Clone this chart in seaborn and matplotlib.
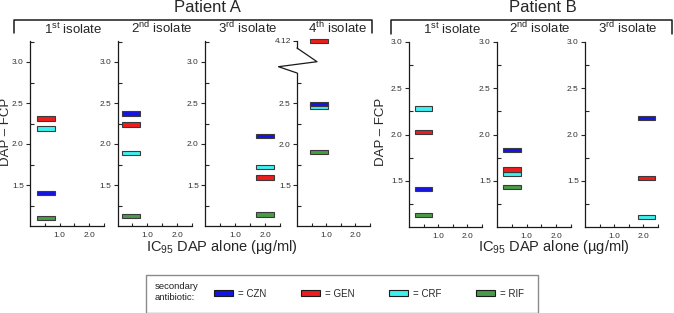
import numpy as np
import matplotlib
matplotlib.use("Agg")
import matplotlib.pyplot as plt
from matplotlib.lines import Line2D
from matplotlib.patches import Patch, Rectangle
import seaborn as sns

# ---- data ----
antibiotics = ['CZN', 'GEN', 'CRF', 'RIF']
ab_colors = ['#1414e6', '#ee1c1c', '#3ff0f0', '#4a9b48']

a_isolates = ['1$^{\\mathrm{st}}$ isolate', '2$^{\\mathrm{nd}}$ isolate',
              '3$^{\\mathrm{rd}}$ isolate', '4$^{\\mathrm{th}}$ isolate']
a_ic95 = [0.55, 0.45, 2.0, 0.75]
a_czn = [1.40, 2.37, 2.10, 2.49]
a_gen = [2.31, 2.24, 1.59, 4.12]
a_crf = [2.19, 1.89, 1.72, 2.46]
a_rif = [1.10, 1.12, 1.14, 1.90]

b_isolates = ['1$^{\\mathrm{st}}$ isolate', '2$^{\\mathrm{nd}}$ isolate',
              '3$^{\\mathrm{rd}}$ isolate']
b_ic95 = [0.5, 0.5, 2.1]
b_czn = [1.41, 1.83, 2.18]
b_gen = [2.03, 1.62, 1.53]
b_crf = [2.28, 1.57, 1.11]
b_rif = [1.13, 1.43, np.nan]

x_label = 'IC$_{95}$ DAP alone (µg/ml)'
y_label = 'DAP – FCP'

# ---- style ----
sns.set_theme(style="ticks")
plt.rcParams['font.family'] = ['Liberation Sans', 'DejaVu Sans']
plt.rcParams['mathtext.fontset'] = 'custom'
plt.rcParams['mathtext.rm'] = 'Liberation Sans'
plt.rcParams['mathtext.it'] = 'Liberation Sans:italic'
plt.rcParams['mathtext.bf'] = 'Liberation Sans:bold'

W, H = 674, 313
BAR_LEN = 0.6
EDGE = '#3a3a3a'

fig = plt.figure(figsize=(W / 100, H / 100), dpi=100)


def box(x0, y0, x1, y1):
    return [x0 / W, 1 - y1 / H, (x1 - x0) / W, (y1 - y0) / H]


def fx(x):
    return x / W


def fy(y):
    return 1 - y / H


def style_axis(ax, ylim, yticks, yminor, show_x=True):
    ax.set_xlim(0, 2.5)
    ax.set_ylim(*ylim)
    sns.despine(ax=ax, bottom=not show_x)
    for s in ['left', 'bottom']:
        ax.spines[s].set_linewidth(0.9)
        ax.spines[s].set_color('#1a1a1a')
    if show_x:
        ax.set_xticks([1.0, 2.0])
        ax.set_xticklabels(['1.0', '2.0'])
        ax.set_xticks([0.5, 1.5, 2.5], minor=True)
        ax.tick_params(axis='x', which='both', direction='in', length=2.5,
                       width=0.8, labelsize=6, pad=4, labelcolor='#333333')
    else:
        ax.set_xticks([])
    ax.set_yticks(yticks)
    ax.set_yticklabels([f'{t:.1f}' for t in yticks])
    ax.set_yticks(yminor, minor=True)
    ax.tick_params(axis='y', which='major', direction='out', length=3,
                   width=0.8, labelsize=6, pad=1.5, labelcolor='#333333')
    ax.tick_params(axis='y', which='minor', direction='in', length=3, width=0.8)
    ax.patch.set_alpha(0)


def draw_bars(axes, ic95, values, thickness):
    # draw RIF first so CZN ends up on top where bars overlap
    for i in [3, 2, 1, 0]:
        v = values[i]
        if np.isnan(v):
            continue
        ax = axes[0]
        for a in axes:
            lo, hi = a.get_ylim()
            if lo - 0.1 <= v <= hi + 0.1:
                ax = a
        ax.barh(v, BAR_LEN, left=ic95 - BAR_LEN / 2, height=thickness,
                color=ab_colors[i], edgecolor=EDGE, linewidth=0.8, clip_on=False)


# ---- patient A ----
a_boxes = [(30, 104), (117.5, 192), (205, 280), (297, 370)]
a_centers = [73, 162, 248, 337]
a_vals = np.array([a_czn, a_gen, a_crf, a_rif])
y_top, y_bot = 41, 226
scale_a = 82.0  # px per unit

for k in range(4):
    x0, x1 = a_boxes[k]
    if k < 3:
        ax = fig.add_axes(box(x0, y_top, x1, y_bot))
        style_axis(ax, (1.0, 1.0 + (y_bot - y_top) / scale_a),
                   [1.5, 2.0, 2.5, 3.0], [1.25, 1.75, 2.25, 2.75, 3.25])
        axes = [ax]
    else:
        brk_top, brk_bot = 48, 73
        ax_lo = fig.add_axes(box(x0, brk_bot, x1, y_bot))
        style_axis(ax_lo, (1.0, 1.0 + (y_bot - brk_bot) / scale_a),
                   [1.5, 2.0, 2.5], [1.25, 1.75, 2.25, 2.75])
        ax_hi = fig.add_axes(box(x0, 40.5, x1, brk_top))
        style_axis(ax_hi, (4.125 - (brk_top - 40.5) / scale_a, 4.125),
                   [4.12], [], show_x=False)
        ax_hi.set_yticklabels(['4.12'])
        axes = [ax_lo, ax_hi]
        # zigzag axis break
        zx = [x0, x0 + 20, x0 - 18.5, x0]
        zy = [brk_top, 61.7, 66.7, brk_bot]
        fig.add_artist(Line2D([fx(v) for v in zx], [fy(v) for v in zy],
                              transform=fig.transFigure, color='#1a1a1a', lw=0.9))
    draw_bars(axes, a_ic95[k], a_vals[:, k], 0.055)
    fig.text(fx(a_centers[k]), fy(33.5), a_isolates[k], ha='center',
             va='baseline', fontsize=9.5)

# ---- patient B ----
b_boxes = [(409, 482), (497, 571), (585, 658)]
b_centers = [452, 540, 628]
b_vals = np.array([b_czn, b_gen, b_crf, b_rif])
for k in range(3):
    x0, x1 = b_boxes[k]
    ax = fig.add_axes(box(x0, 42, x1, 227))
    style_axis(ax, (1.0, 3.0), [1.5, 2.0, 2.5, 3.0], [1.25, 1.75, 2.25, 2.75])
    draw_bars([ax], b_ic95[k], b_vals[:, k], 0.048)
    fig.text(fx(b_centers[k]), fy(33.5), b_isolates[k], ha='center',
             va='baseline', fontsize=9.5)

# ---- brackets and titles ----
for (xa, xb, yb) in [(14, 372, 33), (391, 671.5, 34)]:
    fig.add_artist(Line2D([fx(xa), fx(xa), fx(xb), fx(xb)],
                          [fy(yb), fy(20), fy(20), fy(yb)],
                          transform=fig.transFigure, color='#1a1a1a', lw=1.1))
fig.text(fx(207), fy(12), 'Patient A', ha='center', va='baseline', fontsize=12)
fig.text(fx(543), fy(12), 'Patient B', ha='center', va='baseline', fontsize=12)

for xl in [6.5, 381.5]:
    fig.text(fx(xl), fy(132), y_label, rotation=90, ha='center', va='center',
             fontsize=9.5)
for xc in [222, 554]:
    fig.text(fx(xc), fy(251.5), x_label, ha='center', va='baseline', fontsize=10.5)

# ---- legend ----
fig.add_artist(Rectangle((fx(146), fy(312.5)), (537.5 - 146) / W, (312.5 - 275) / H,
                         transform=fig.transFigure, fill=False,
                         edgecolor='#8a8a8a', lw=1.0))
fig.text(fx(155), fy(292), 'secondary\nantibiotic:', ha='left', va='center',
         fontsize=6.8, linespacing=1.35, color='#222222')
handles = [Patch(facecolor=c, edgecolor='#1a1a1a', lw=0.8) for c in ab_colors]
labels = ['= ' + a for a in antibiotics]
fig.legend(handles, labels, ncol=4, loc='center left',
           bbox_to_anchor=(fx(214.3), fy(293.7)), frameon=False, fontsize=7,
           handlelength=1.95, handleheight=0.62, handletextpad=0.48,
           columnspacing=3.6, borderpad=0, borderaxespad=0)

fig.savefig('out.png', dpi=100)
